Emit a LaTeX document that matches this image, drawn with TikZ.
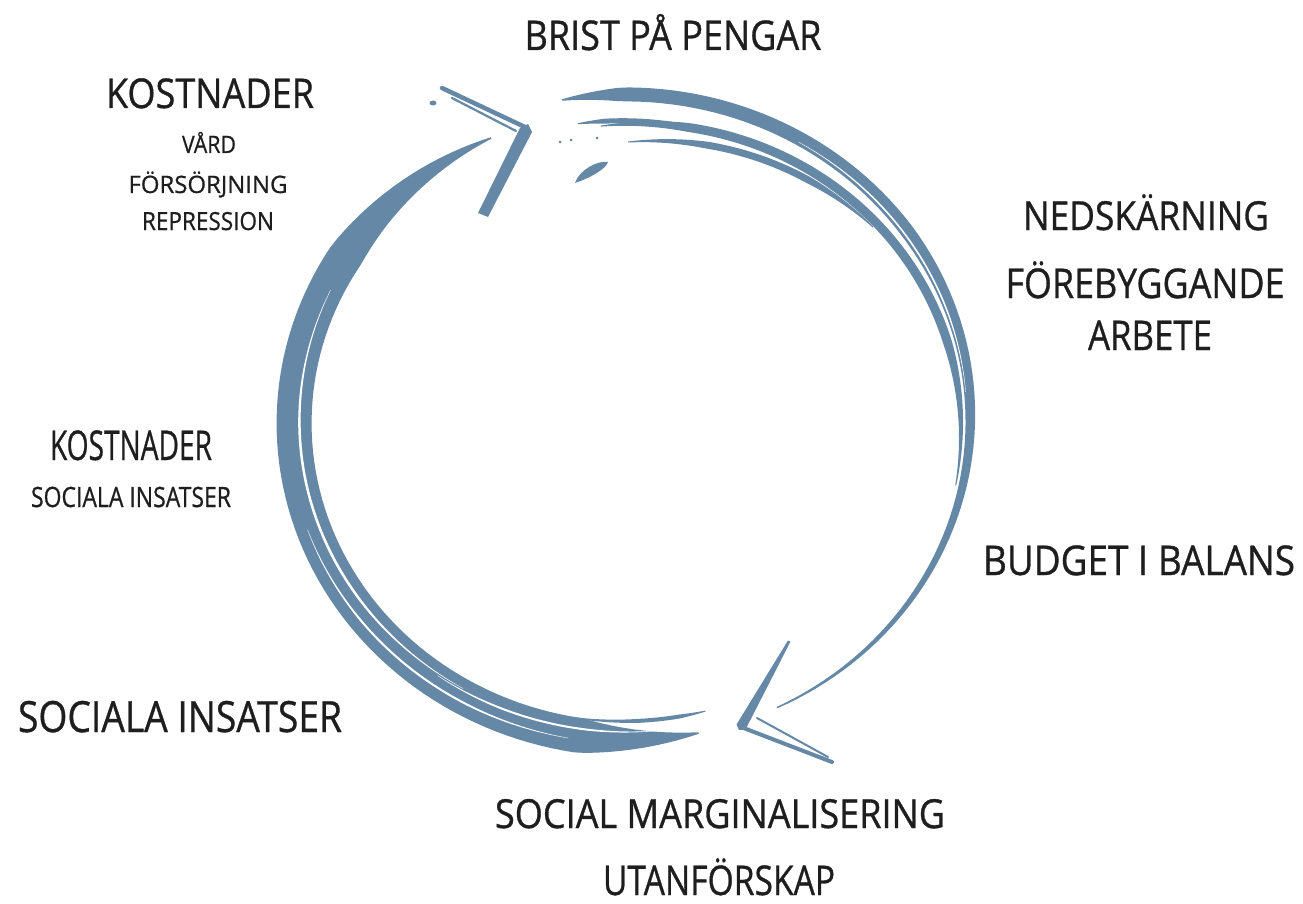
\documentclass[tikz,border=0pt]{standalone}
\usepackage{fontspec}
\usepackage{graphicx}
\setmainfont{Open Sans}[FakeBold=0.8]
\definecolor{brushc}{RGB}{102,136,167}
\definecolor{ink}{RGB}{30,30,30}
\def\cx{628}\def\cy{420}\def\rx{342}\def\ry{322}
\tikzset{
  brush/.style={fill=brushc},
  gapw/.style={fill=white},
  lbl/.style={anchor=base, inner sep=0pt, text=ink},
  declare function={
    ss(\u)=(\u-\pA)/(\pB-\pA);
    ww(\u)=\wA+(\wB-\wA)*min(1,ss(\u)/\tA,(1-ss(\u))/\tB);
    oo(\u)=\oA+(\oB-\oA)*ss(\u);
    rin(\u)=oo(\u)-0.5*ww(\u);
    rout(\u)=oo(\u)+0.5*ww(\u);
  }
}
% tapered brush strand along the ellipse
\newcommand\strand[9][brush]{%
  \def\pA{(#2)}\def\pB{(#3)}\def\oA{(#4)}\def\oB{(#5)}%
  \def\wA{(#6)}\def\wB{(#7)}\def\tA{(#8)}\def\tB{(#9)}%
  \fill[#1] plot[domain=#2:#3,samples=90,variable=\t]
    ({\cx+(\rx+rout(\t))*cos(\t)},{\cy+(\ry+rout(\t))*sin(\t)})
    -- plot[domain=#3:#2,samples=90,variable=\t]
    ({\cx+(\rx+rin(\t))*cos(\t)},{\cy+(\ry+rin(\t))*sin(\t)}) -- cycle;}
\newcommand\hw[3]{{\fontsize{#1}{#1}\selectfont\resizebox{#2pt}{\height}{#3}}}
\begin{document}
\begin{tikzpicture}[x=1pt,y=-1pt]
\fill[white] (0,0) rectangle (1303,904);
\useasboundingbox (0,0) rectangle (1303,904);

% ---------- right arrow (top -> bottom, clockwise) ----------
\strand{-101}{64}{4}{-2}{1.5}{14}{0.06}{0.6}
\strand{-95}{12}{-27}{-7}{1}{9}{0.15}{0.25}
\strand{-90}{-40}{-44}{-22}{1}{7}{0.3}{0.3}
\strand{-99}{-75}{-22}{-24}{1}{5}{0.2}{0.3}
\strand[gapw]{-60}{-5}{-1}{-3}{0.3}{1.6}{0.3}{0.3}
\fill[brushc] (575,183) .. controls (579,170) and (598,160) .. (608,162)
   .. controls (606,169) and (590,178) .. (575,183) -- cycle;
\fill[brushc] (560,142) circle (1.5) (571,140) circle (1.5) (597,138) circle (1.5);
% arrowhead at bottom
\coordinate (rtip) at (741,727);
\fill[brushc] (736.5,724.5) -- (788,640.5) -- (790.5,641.5) -- (745.5,729.5) -- (739,730) -- cycle;
\draw[brushc, line width=4pt, line cap=round] (rtip) -- (832,762);
\draw[brushc, line width=2pt, line cap=round] (757,718) -- (828,757);

% ---------- left arrow (bottom -> top, clockwise) ----------
\strand{78}{245.5}{-2}{-12}{1.5}{35}{0.12}{0.2}
\strand{76}{100}{-22}{-20}{1}{4}{0.2}{0.5}
\strand[gapw]{120}{205}{-12}{-14}{0.3}{2.5}{0.3}{0.3}
\strand[gapw]{100}{160}{1}{-1}{0.3}{2}{0.3}{0.3}
\strand[gapw]{85}{125}{-10}{-10}{0.3}{2}{0.3}{0.3}
% arrowhead at top
\coordinate (ltip) at (527,128);
\fill[brushc] (528,124) -- (532,132) -- (488,217) -- (478,213) -- (520,128) -- cycle;
\draw[brushc, line width=4.5pt, line cap=round] (442,88) -- (ltip);
\draw[brushc, line width=2.2pt, line cap=round] (452,98) -- (516,131);
\fill[brushc] (433,103) ellipse (3.5 and 2.5);

% ---------- labels ----------
\node[lbl] (brist) at (673,50) {\hw{41}{297}{BRIST PÅ PENGAR}};
\node[lbl] (kost1) at (210,108) {\hw{41}{208}{KOSTNADER}};
\node[lbl] (vard) at (209,153) {\hw{24}{54}{VÅRD}};
\node[lbl] (fors) at (208,193) {\hw{24}{159}{FÖRSÖRJNING}};
\node[lbl] (repr) at (208,230) {\hw{25}{132}{REPRESSION}};
\node[lbl] (ned) at (1146,230) {\hw{40}{246}{NEDSKÄRNING}};
\node[lbl] (fore) at (1145,298) {\hw{41}{279}{FÖREBYGGANDE}};
\node[lbl] (arb) at (1150,350) {\hw{41}{124}{ARBETE}};
\node[lbl] (budg) at (1139,575) {\hw{41}{312}{BUDGET I BALANS}};
\node[lbl] (kost2) at (131,460) {\hw{41}{162}{KOSTNADER}};
\node[lbl] (soc1) at (131,507) {\hw{28}{200}{SOCIALA INSATSER}};
\node[lbl] (soc2) at (180,732) {\hw{43}{324}{SOCIALA INSATSER}};
\node[lbl] (marg) at (720,828) {\hw{40}{450}{SOCIAL MARGINALISERING}};
\node[lbl] (utan) at (719,895) {\hw{41}{232}{UTANFÖRSKAP}};
\end{tikzpicture}
\end{document}
